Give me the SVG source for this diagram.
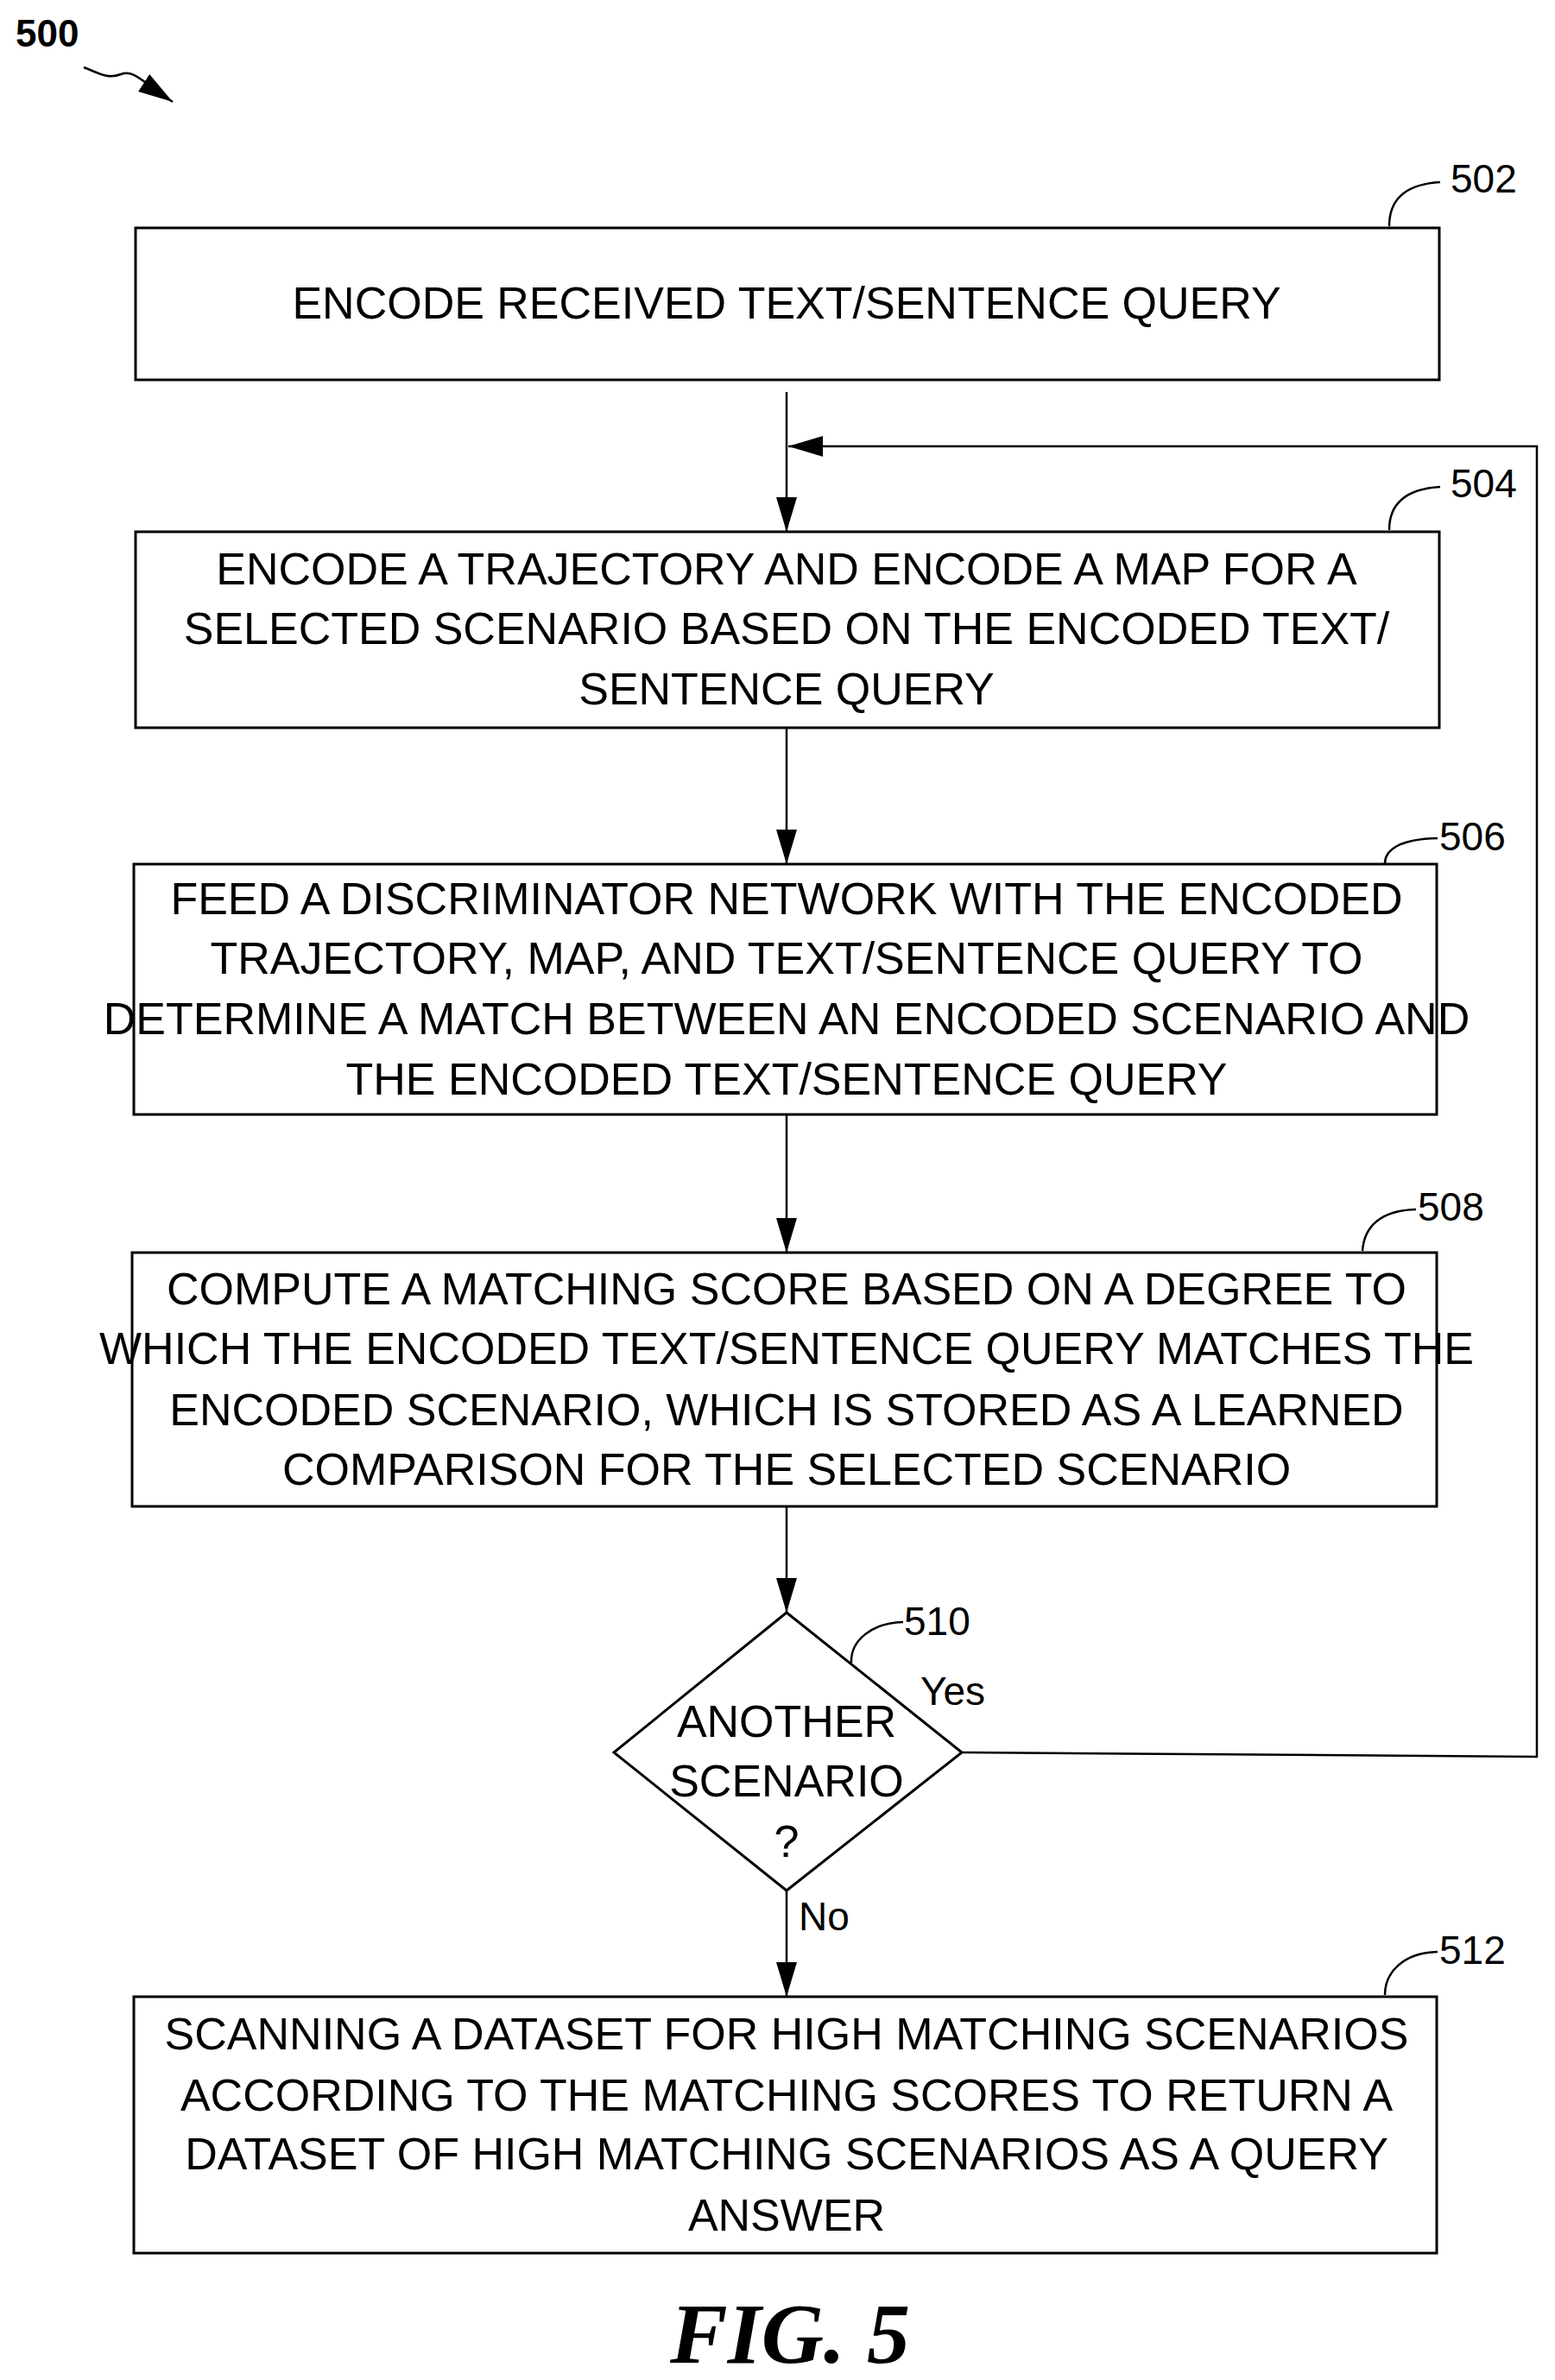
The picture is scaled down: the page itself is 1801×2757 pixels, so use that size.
<svg xmlns="http://www.w3.org/2000/svg" width="1801" height="2757" viewBox="0 0 1801 2757">
<style>
.b{fill:#fff;stroke:#000;stroke-width:3}
.t{font-family:"Liberation Sans Narrow","Liberation Sans",Arial,sans-serif;font-size:52px;text-anchor:middle;fill:#000}
.n{font-family:"Liberation Sans Narrow","Liberation Sans",Arial,sans-serif;font-size:46px;fill:#000}
.l{fill:none;stroke:#000;stroke-width:2.5}
.c{fill:none;stroke:#000;stroke-width:2.5}
</style>
<defs>
<marker id="a" markerWidth="12" markerHeight="10" refX="12" refY="5" orient="auto" markerUnits="userSpaceOnUse" viewBox="0 0 12 10"><path d="M0,0 L12,5 L0,10 Z" fill="#000"/></marker>
<marker id="A" viewBox="0 0 40 24" refX="40" refY="12" markerWidth="40" markerHeight="24" orient="auto" markerUnits="userSpaceOnUse"><path d="M0,0 L40,12 L0,24 Z" fill="#000"/></marker>
</defs>
<text x="18" y="54" font-family="Liberation Sans Narrow,Liberation Sans,sans-serif" font-weight="bold" font-size="44">500</text>
<path d="M97,78 C115,85 125,92 140,86 C155,80 165,95 200,118" class="l" marker-end="url(#A)"/>
<g id="connectors">
<line x1="911" y1="454" x2="911" y2="616" class="c" marker-end="url(#A)"/>
<line x1="911" y1="843" x2="911" y2="1001" class="c" marker-end="url(#A)"/>
<line x1="911" y1="1291" x2="911" y2="1451" class="c" marker-end="url(#A)"/>
<line x1="911" y1="1745" x2="911" y2="1868" class="c" marker-end="url(#A)"/>
<line x1="911" y1="2190" x2="911" y2="2313" class="c" marker-end="url(#A)"/>
<polyline points="1114,2030 1780,2035 1780,517 913,517" class="c" marker-end="url(#A)"/>
<text x="1066" y="1975" class="n">Yes</text>
<text x="925" y="2236" class="n">No</text>
</g>
<g id="n502">
<rect x="157" y="264" width="1510" height="176" class="b"/>
<text x="911" y="369" class="t">ENCODE RECEIVED TEXT/SENTENCE QUERY</text>
<path d="M1609,262 C1609,225 1635,213 1668,211" class="l"/>
<text x="1680" y="223" class="n">502</text>
</g>
<g id="n504">
<rect x="157" y="616" width="1510" height="227" class="b"/>
<text x="911" y="677" class="t">ENCODE A TRAJECTORY AND ENCODE A MAP FOR A</text>
<text x="911" y="746" class="t">SELECTED SCENARIO BASED ON THE ENCODED TEXT/</text>
<text x="911" y="816" class="t">SENTENCE QUERY</text>
<path d="M1609,614 C1609,578 1635,566 1668,564" class="l"/>
<text x="1680" y="576" class="n">504</text>
</g>
<g id="n506">
<rect x="155" y="1001" width="1509" height="290" class="b"/>
<text x="911" y="1059" class="t">FEED A DISCRIMINATOR NETWORK WITH THE ENCODED</text>
<text x="911" y="1128" class="t">TRAJECTORY, MAP, AND TEXT/SENTENCE QUERY TO</text>
<text x="911" y="1198" class="t">DETERMINE A MATCH BETWEEN AN ENCODED SCENARIO AND</text>
<text x="911" y="1268" class="t">THE ENCODED TEXT/SENTENCE QUERY</text>
<path d="M1604,1000 C1604,985 1620,972 1665,971" class="l"/>
<text x="1667" y="985" class="n">506</text>
</g>
<g id="n508">
<rect x="153" y="1451" width="1511" height="294" class="b"/>
<text x="911" y="1511" class="t">COMPUTE A MATCHING SCORE BASED ON A DEGREE TO</text>
<text x="911" y="1580" class="t">WHICH THE ENCODED TEXT/SENTENCE QUERY MATCHES THE</text>
<text x="911" y="1651" class="t">ENCODED SCENARIO, WHICH IS STORED AS A LEARNED</text>
<text x="911" y="1720" class="t">COMPARISON FOR THE SELECTED SCENARIO</text>
<path d="M1578,1449 C1580,1420 1600,1402 1640,1401" class="l"/>
<text x="1642" y="1414" class="n">508</text>
</g>
<g id="n510">
<polygon points="911,1868 1114,2030 911,2190 711,2030" class="b"/>
<text x="911" y="2012" class="t">ANOTHER</text>
<text x="911" y="2081" class="t">SCENARIO</text>
<text x="911" y="2151" class="t">?</text>
<path d="M986,1926 C985,1900 1010,1880 1046,1879" class="l"/>
<text x="1047" y="1894" class="n">510</text>
</g>
<g id="n512">
<rect x="155" y="2313" width="1509" height="297" class="b"/>
<text x="911" y="2374" class="t">SCANNING A DATASET FOR HIGH MATCHING SCENARIOS</text>
<text x="911" y="2445" class="t">ACCORDING TO THE MATCHING SCORES TO RETURN A</text>
<text x="911" y="2513" class="t">DATASET OF HIGH MATCHING SCENARIOS AS A QUERY</text>
<text x="911" y="2584" class="t">ANSWER</text>
<path d="M1604,2311 C1604,2285 1625,2262 1665,2261" class="l"/>
<text x="1667" y="2275" class="n">512</text>
</g>
<text x="915" y="2737" font-family="Liberation Serif,Times New Roman,serif" font-weight="bold" font-style="italic" font-size="100" text-anchor="middle">FIG. 5</text>
</svg>
